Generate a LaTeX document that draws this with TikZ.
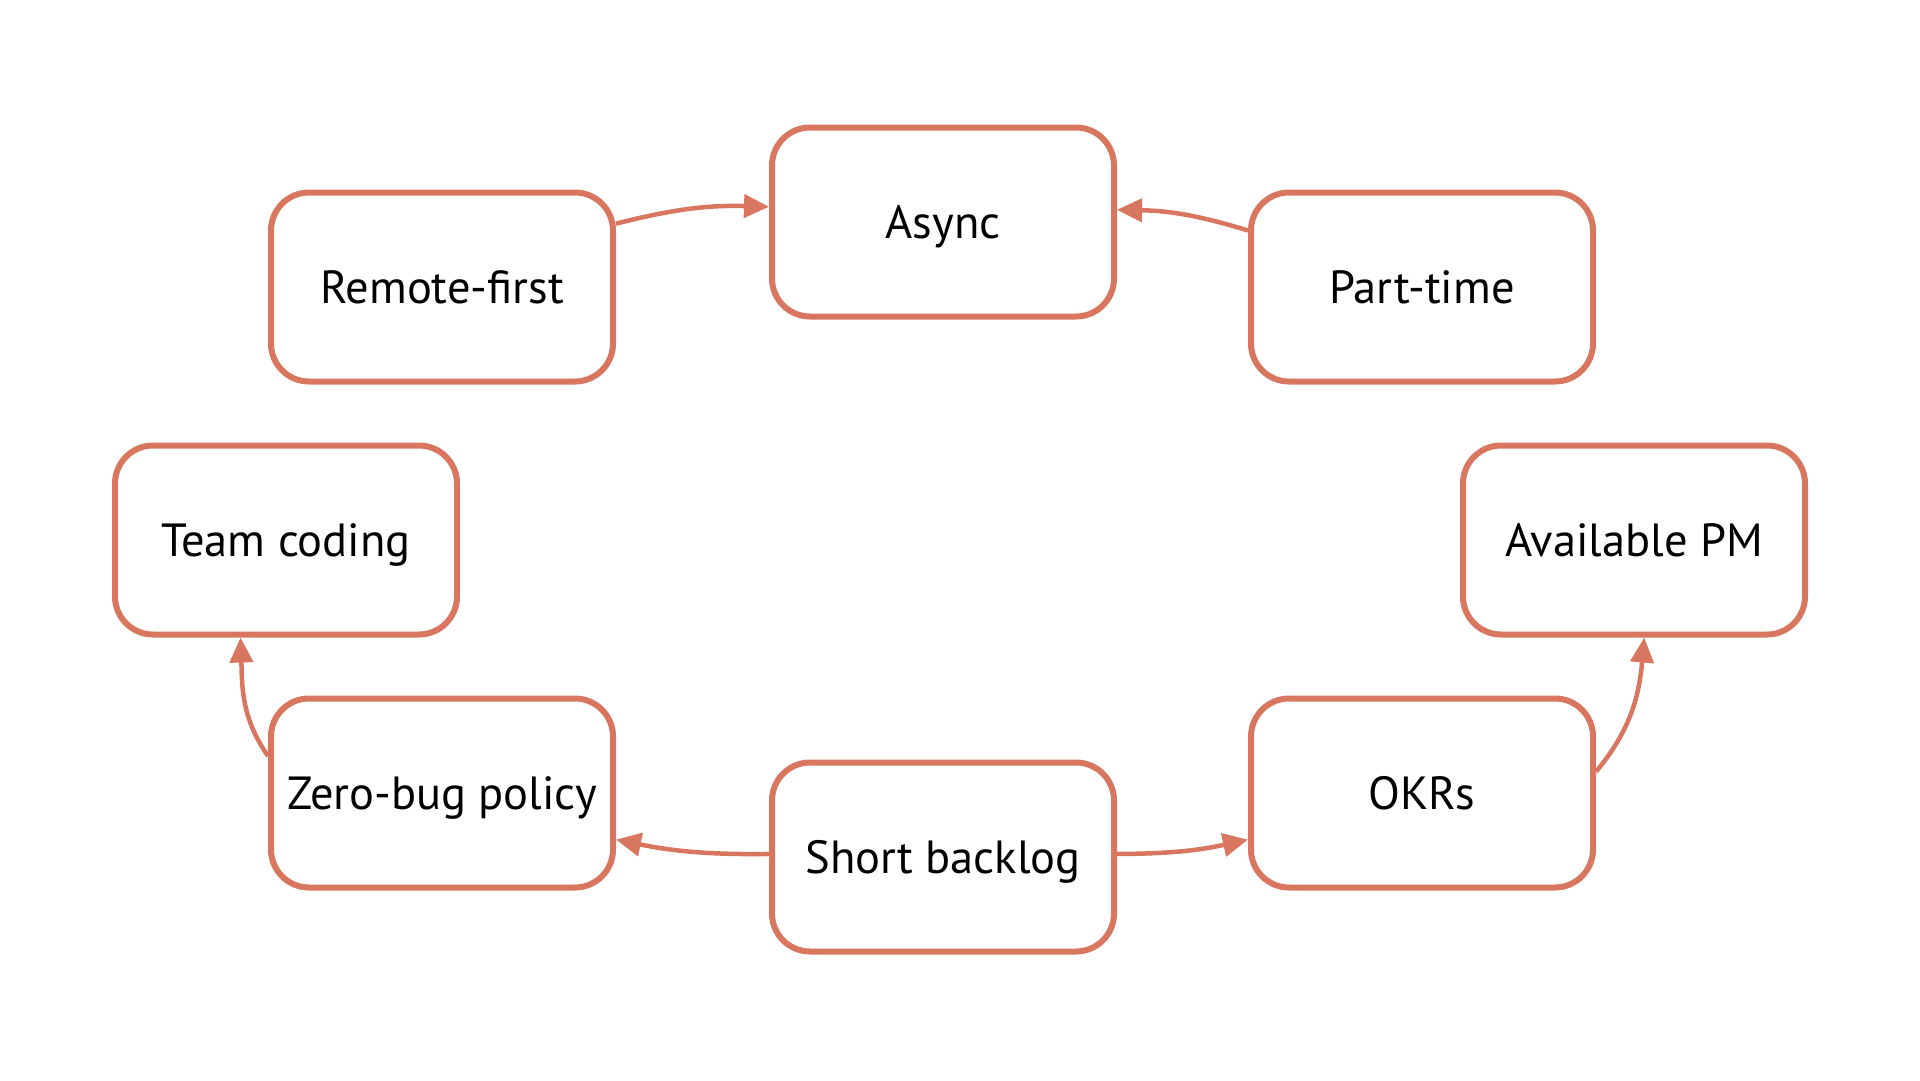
\documentclass[tikz,border=0pt]{standalone}
\usepackage{fontspec}
\setmainfont{PT Sans}
\usetikzlibrary{arrows.meta}
\definecolor{edgec}{RGB}{217,118,96}
\begin{document}
\begin{tikzpicture}[x=1pt,y=1pt,
 box/.style={draw=edgec, line width=6pt, rounded corners=38pt, fill=white,
   minimum width=342pt, minimum height=189pt, inner sep=0pt,
   font=\fontsize{46.5}{50}\selectfont, text height=32pt, text depth=0pt},
 link/.style={draw=edgec, line width=4.5pt, -{Triangle[length=25pt,width=23pt]}}]
\useasboundingbox (0,0) rectangle (1920,-1080);
\node[box] (as) at (943,-222) {Async};
\node[box] (rf) at (442,-287) {Remote-first};
\node[box] (pt) at (1422,-287) {Part-time};
\node[box] (tc) at (286,-540) {Team coding};
\node[box] (pm) at (1634,-540) {Available PM};
\node[box] (zb) at (442,-793) {Zero-bug policy};
\node[box] (sb) at (943,-857) {Short backlog};
\node[box] (ok) at (1422,-793) {OKRs};
\draw[link] (rf.20) to[bend left=8] (as.175);
\draw[link] (pt.162) to[bend right=8] (as.4);
\draw[link] (zb.168) to[out=125,in=-88] (tc.245);
\draw[link] (sb.179) to[bend left=6] (zb.345);
\draw[link] (sb.1) to[bend right=6] (ok.195);
\draw[link] (ok.7) to[out=50,in=-95] (pm.276);
\end{tikzpicture}
\end{document}
